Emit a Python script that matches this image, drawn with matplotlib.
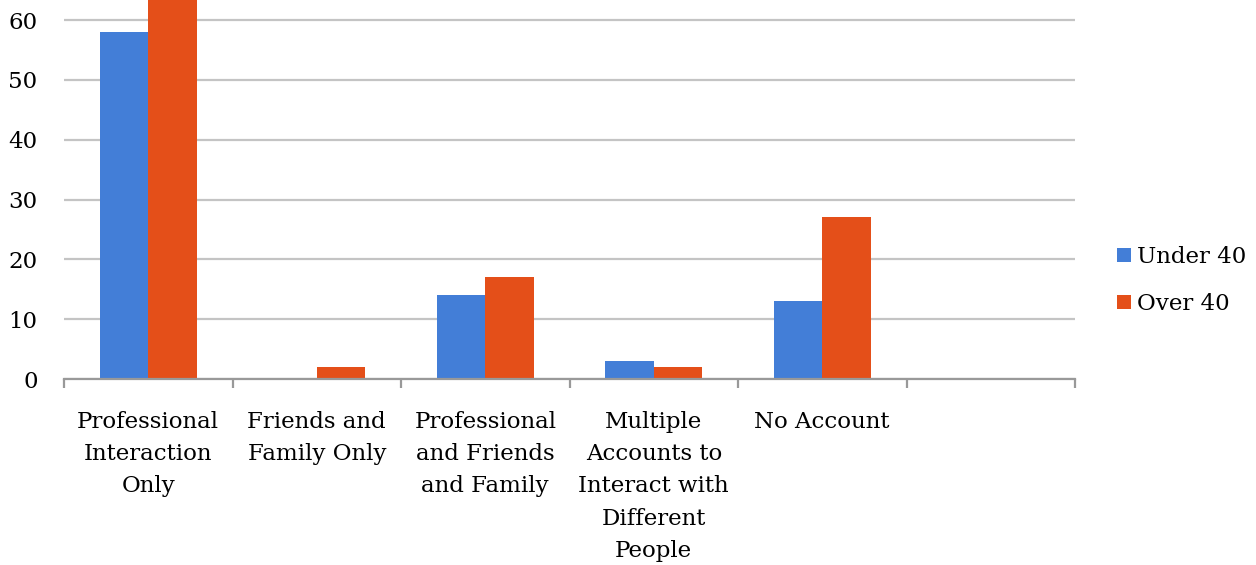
import matplotlib
matplotlib.use("Agg")
import matplotlib.pyplot as plt
import numpy as np

categories = [
    "Professional\nInteraction\nOnly",
    "Friends and\nFamily Only",
    "Professional\nand Friends\nand Family",
    "Multiple\nAccounts to\nInteract with\nDifferent\nPeople",
    "No Account",
    "",
]
under_40 = [58, 0, 14, 3, 13, 0]
over_40 = [65, 2, 17, 2, 27, 0]
series_names = ["Under 40", "Over 40"]
y_ticks = [0, 10, 20, 30, 40, 50, 60]

BLUE = "#437ed7"
ORANGE = "#e44f19"
GRID = "#c4c4c4"
AXIS = "#999999"
FS = 16.5

plt.rcParams["font.family"] = ["DejaVu Serif"]

fig = plt.figure(figsize=(12.56, 5.65), dpi=100)
ax = fig.add_axes([64 / 1256, (565 - 379) / 565, (1075 - 64) / 1256, 379 / 565])

x = np.arange(len(categories))
w = 0.288
ax.bar(x - w / 2, under_40, w, color=BLUE, label=series_names[0], zorder=3)
ax.bar(x + w / 2, over_40, w, color=ORANGE, label=series_names[1], zorder=3)

ax.set_xlim(-0.5, len(categories) - 0.5)
ax.set_ylim(0, 63.35)
ax.set_yticks(y_ticks)
ax.yaxis.grid(True, color=GRID, linewidth=1.6, zorder=0)
ax.set_axisbelow(True)

for s in ["top", "right", "left"]:
    ax.spines[s].set_visible(False)
ax.spines["bottom"].set_color(AXIS)
ax.spines["bottom"].set_linewidth(1.6)
ax.spines["bottom"].set_zorder(4)

ax.set_xticks(x)
ax.set_xticklabels(categories, fontsize=FS, linespacing=1.6, va="top")
ax.tick_params(axis="x", which="major", length=0, pad=23)
ax.set_xticks(np.arange(-0.5, len(categories)), minor=True)
ax.tick_params(axis="x", which="minor", length=6.5, width=1.6, color=AXIS)
ax.tick_params(axis="y", length=0, pad=19, labelsize=FS)

ax.legend(loc="center left", bbox_to_anchor=(1.042, 0.26), frameon=False,
          fontsize=FS, handlelength=0.6, handleheight=0.6, handletextpad=0.25,
          labelspacing=1.1, borderaxespad=0, borderpad=0)

fig.savefig("out.png", dpi=100)
